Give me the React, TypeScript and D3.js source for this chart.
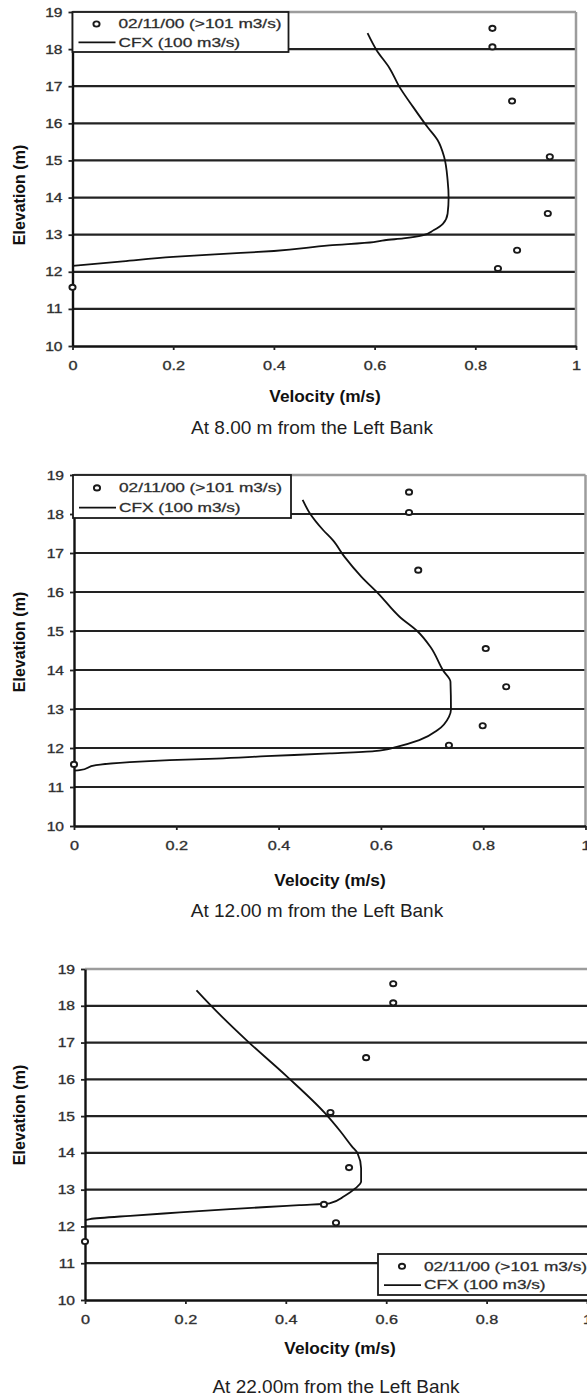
import React, { useRef, useEffect } from 'react'
import * as d3 from 'd3'

// [velocity (m/s), elevation (m)]
const measured8m = [[0.834, 18.56], [0.834, 18.06], [0.873, 16.6], [0.948, 15.1], [0.944, 13.57], [0.883, 12.58], [0.845, 12.09], [0, 11.58]]
const cfx8m = [[0.586, 18.43], [0.604, 17.97], [0.63, 17.48], [0.649, 16.99], [0.676, 16.45], [0.705, 15.9], [0.725, 15.55], [0.738, 15.1], [0.745, 14.47], [0.747, 14.0], [0.745, 13.57], [0.736, 13.3], [0.717, 13.12], [0.695, 12.98], [0.657, 12.9], [0.62, 12.85], [0.598, 12.8], [0.51, 12.71], [0.4, 12.56], [0.3, 12.48], [0.2, 12.4], [0.1, 12.28], [0, 12.16]]

const measured12m = [[0.655, 18.56], [0.655, 18.04], [0.673, 16.56], [0.805, 14.55], [0.845, 13.57], [0.799, 12.57], [0.733, 12.07], [0, 11.58]]
const cfx12m = [[0.447, 18.36], [0.461, 18.02], [0.487, 17.59], [0.506, 17.33], [0.529, 16.9], [0.562, 16.39], [0.595, 15.96], [0.637, 15.36], [0.671, 15.0], [0.697, 14.59], [0.722, 13.98], [0.736, 13.7], [0.737, 12.99], [0.733, 12.8], [0.711, 12.46], [0.675, 12.2], [0.631, 12.03], [0.587, 11.92], [0.5, 11.86], [0.376, 11.79], [0.278, 11.73], [0.187, 11.69], [0.109, 11.64], [0.043, 11.56], [0.011, 11.43], [0, 11.42]]

const measured22m = [[0.614, 18.6], [0.614, 18.08], [0.56, 16.59], [0.489, 15.1], [0.526, 13.6], [0.476, 12.6], [0.5, 12.1], [0, 11.59]]
const cfx22m = [[0.222, 18.42], [0.249, 18.03], [0.322, 17.06], [0.402, 16.08], [0.478, 15.08], [0.509, 14.58], [0.532, 14.17], [0.543, 13.99], [0.55, 13.58], [0.55, 13.22], [0.539, 13.04], [0.517, 12.83], [0.487, 12.63], [0.427, 12.58], [0.402, 12.56], [0.289, 12.47], [0.189, 12.38], [0.09, 12.29], [0.01, 12.2], [0, 12.17]]

const yTickValues = [10, 11, 12, 13, 14, 15, 16, 17, 18, 19]
const xTickValues = [0, 0.2, 0.4, 0.6, 0.8, 1]
const legendLabels = ['02/11/00 (>101 m3/s)', 'CFX (100 m3/s)']
const captions = ['At 8.00 m from the Left Bank', 'At 12.00 m from the Left Bank', 'At 22.00m from the Left Bank']
const xAxisLabel = 'Velocity (m/s)'
const yAxisLabel = 'Elevation (m)'

const FONT = '"Liberation Sans", Arial, Helvetica, sans-serif'
const W = 587
const H = 1397

const panels = [
  {
    measured: measured8m, cfx: cfx8m, caption: captions[0],
    left: 72.5, right: 576, top: 12, bottom: 346, border: true,
    legend: { x: 72.5, y: 12, w: 216, h: 40 },
    velX: 325, velY: 402, capX: 312, capY: 434, elevY: 195,
  },
  {
    measured: measured12m, cfx: cfx12m, caption: captions[1],
    left: 74, right: 585.5, top: 475, bottom: 826, border: true,
    legend: { x: 73, y: 475, w: 218, h: 43 },
    velX: 330, velY: 886, capX: 317, capY: 917, elevY: 642,
  },
  {
    measured: measured22m, cfx: cfx22m, caption: captions[2],
    left: 85, right: 587, top: 969, bottom: 1300, border: false,
    legend: { x: 378, y: 1254, w: 216, h: 41 },
    velX: 340, velY: 1354, capX: 336, capY: 1393, elevY: 1115,
  },
]

const App = () => {
  const visEl = useRef(null)

  useEffect(() => {
    const svg = d3.select(visEl.current)
    svg.selectAll('*').remove()

    panels.forEach(p => {
      const x = d3.scaleLinear().domain([0, 1]).range([p.left, p.right])
      const y = d3.scaleLinear().domain([10, 19]).range([p.bottom, p.top])
      const g = svg.append('g')

      // horizontal gridlines
      g.selectAll('line.grid')
        .data(yTickValues.filter(v => v > 10))
        .join('line')
        .attr('class', 'grid')
        .attr('x1', p.left).attr('x2', p.right)
        .attr('y1', d => y(d)).attr('y2', d => y(d))
        .attr('stroke', d => d === 19 ? '#9c9c9c' : '#222')
        .attr('stroke-width', d => d === 19 ? 2.5 : 2.2)

      if (p.border) {
        g.append('line')
          .attr('x1', p.right).attr('x2', p.right)
          .attr('y1', y(19)).attr('y2', y(10))
          .attr('stroke', '#9c9c9c').attr('stroke-width', 2.5)
      }

      const yAxisG = g.append('g')
        .attr('transform', `translate(${p.left},0)`)
        .call(d3.axisLeft(y).tickValues(yTickValues).tickSize(4).tickSizeOuter(0).tickFormat(d3.format('d')))
        .attr('font-family', FONT).attr('font-size', 12.5)
      yAxisG.select('.domain').attr('stroke', '#111').attr('stroke-width', 2.4)
      yAxisG.selectAll('.tick line').attr('stroke', '#222').attr('stroke-width', 1.8)
      yAxisG.selectAll('.tick text')
        .attr('x', -10 / 1.25)
        .attr('transform', 'scale(1.25,1)')
        .attr('fill', '#222')
        .attr('stroke', '#444').attr('stroke-width', 0.35)

      const xAxisG = g.append('g')
        .attr('transform', `translate(0,${p.bottom})`)
        .call(d3.axisBottom(x).tickValues(xTickValues).tickSize(4).tickSizeOuter(0).tickPadding(11).tickFormat(d3.format('~g')))
        .attr('font-family', FONT).attr('font-size', 12.5)
      xAxisG.select('.domain').attr('stroke', '#111').attr('stroke-width', 2.4)
      xAxisG.selectAll('.tick line').attr('stroke', '#222').attr('stroke-width', 1.8)
      xAxisG.selectAll('.tick text')
        .attr('transform', 'scale(1.3,1)')
        .attr('x', 0)
        .attr('fill', '#222')
        .attr('stroke', '#444').attr('stroke-width', 0.35)

      // CFX profile
      const line = d3.line()
        .x(d => x(d[0]))
        .y(d => y(d[1]))
        .curve(d3.curveMonotoneY)
      g.append('path')
        .datum(p.cfx)
        .attr('d', line)
        .attr('fill', 'none')
        .attr('stroke', '#111')
        .attr('stroke-width', 1.8)

      // measured points
      g.selectAll('ellipse.pt')
        .data(p.measured)
        .join('ellipse')
        .attr('class', 'pt')
        .attr('cx', d => x(d[0]))
        .attr('cy', d => y(d[1]))
        .attr('rx', 3.1).attr('ry', 2.6)
        .attr('fill', '#fff')
        .attr('stroke', '#1a1a1a')
        .attr('stroke-width', 1.9)

      // legend
      const L = p.legend
      const lg = g.append('g').attr('transform', `translate(${L.x},${L.y})`)
      lg.append('rect')
        .attr('width', L.w).attr('height', L.h)
        .attr('fill', '#fff').attr('stroke', '#1a1a1a').attr('stroke-width', 1.8)
      const r1 = L.h * 0.3
      const r2 = L.h * 0.76
      lg.append('ellipse')
        .attr('cx', 24).attr('cy', r1).attr('rx', 3.1).attr('ry', 2.6)
        .attr('fill', '#fff').attr('stroke', '#1a1a1a').attr('stroke-width', 1.9)
      lg.append('line')
        .attr('x1', 6).attr('x2', 43).attr('y1', r2).attr('y2', r2)
        .attr('stroke', '#111').attr('stroke-width', 1.8)
      lg.selectAll('text')
        .data(legendLabels)
        .join('text')
        .attr('transform', (d, i) => `translate(46,${(i === 0 ? r1 : r2) + 4.3}) scale(1.38,1)`)
        .attr('font-family', FONT)
        .attr('font-size', 12.5)
        .attr('fill', '#222')
        .attr('stroke', '#444').attr('stroke-width', 0.3)
        .text(d => d)

      // axis titles
      g.append('text')
        .attr('transform', `translate(${p.velX},${p.velY}) scale(1.08,1)`)
        .attr('text-anchor', 'middle')
        .attr('font-family', FONT)
        .attr('font-weight', 'bold')
        .attr('font-size', 16)
        .attr('fill', '#111')
        .text(xAxisLabel)

      g.append('text')
        .attr('transform', `translate(25,${p.elevY}) rotate(-90)`)
        .attr('text-anchor', 'middle')
        .attr('font-family', FONT)
        .attr('font-weight', 'bold')
        .attr('font-size', 16)
        .attr('fill', '#111')
        .text(yAxisLabel)

      g.append('text')
        .attr('x', p.capX)
        .attr('y', p.capY)
        .attr('text-anchor', 'middle')
        .attr('font-family', FONT)
        .attr('font-size', 19)
        .attr('fill', '#1e1e1e')
        .text(p.caption)
    })
  }, [])

  return (
    <div>
      <svg
        ref={visEl}
        width={W}
        height={H}
        style={{ position: 'absolute', left: 0, top: 0, background: '#fff' }}
      />
    </div>
  )
}

export default App
